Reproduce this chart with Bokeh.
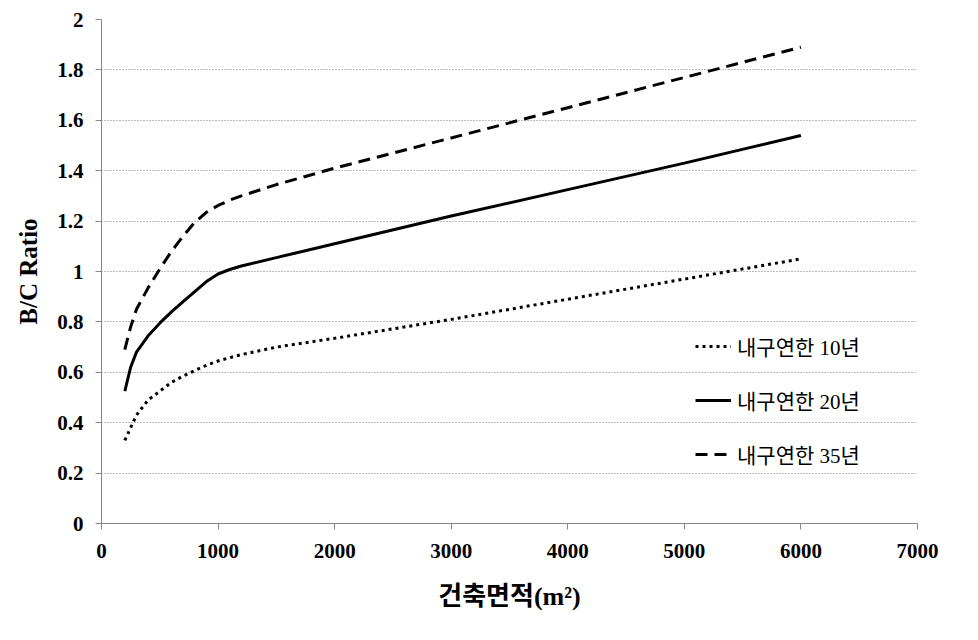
from bokeh.plotting import figure
from bokeh.models import Range1d, FixedTicker, Legend, LegendItem
from bokeh.embed import file_html
from bokeh.resources import INLINE

# ---- data ----
area = [200, 250, 300, 400, 500, 600, 700, 800, 900, 1000, 1100, 1200, 1500, 2000, 3000, 4000, 5000, 6000]
life10 = [0.33, 0.38, 0.43, 0.49, 0.525, 0.56, 0.585, 0.607, 0.628, 0.645, 0.658, 0.67, 0.70, 0.735, 0.81, 0.89, 0.97, 1.05]
life20 = [0.525, 0.62, 0.68, 0.745, 0.795, 0.84, 0.88, 0.92, 0.96, 0.99, 1.008, 1.022, 1.055, 1.11, 1.22, 1.325, 1.43, 1.54]
life35 = [0.69, 0.78, 0.85, 0.935, 1.01, 1.08, 1.14, 1.195, 1.235, 1.262, 1.283, 1.30, 1.345, 1.41, 1.53, 1.65, 1.77, 1.89]

series_names = ["내구연한 10년", "내구연한 20년", "내구연한 35년"]
x_ticks = [0, 1000, 2000, 3000, 4000, 5000, 6000, 7000]
y_ticks = [0, 0.2, 0.4, 0.6, 0.8, 1.0, 1.2, 1.4, 1.6, 1.8, 2.0]
y_tick_labels = ["0", "0.2", "0.4", "0.6", "0.8", "1", "1.2", "1.4", "1.6", "1.8", "2"]
x_title = "건축면적(m²)"
y_title = "B/C Ratio"

SERIF = "'Liberation Serif', 'Noto Sans CJK KR', serif"

p = figure(width=978, height=640, output_backend="svg", toolbar_location=None,
           x_range=Range1d(0, 7000), y_range=Range1d(0, 2),
           min_border_left=101, min_border_right=61, min_border_top=19, min_border_bottom=117)
p.outline_line_color = None
p.background_fill_color = "white"
p.border_fill_color = "white"

# axes
for ax in (p.xaxis[0], p.yaxis[0]):
    ax.axis_line_color = "#868686"
    ax.major_tick_line_color = "#868686"
    ax.major_tick_out = 6
    ax.major_tick_in = 0
    ax.minor_tick_line_color = None
    ax.major_label_text_font = SERIF
    ax.major_label_text_font_style = "bold"
    ax.major_label_text_font_size = "21px"
    ax.major_label_text_color = "black"
    ax.axis_label_text_font_style = "bold"
    ax.axis_label_text_color = "black"

p.xaxis.ticker = FixedTicker(ticks=x_ticks)
p.yaxis.ticker = FixedTicker(ticks=y_ticks)
p.yaxis.major_label_overrides = {t: l for t, l in zip(y_ticks, y_tick_labels)}
p.xaxis.major_label_overrides = {t: str(t) for t in x_ticks}
p.xaxis.major_label_standoff = 14
p.yaxis.major_label_standoff = 12

p.xaxis.axis_label = x_title
p.xaxis.axis_label_text_font = SERIF
p.xaxis.axis_label_text_font_size = "26px"
p.xaxis.axis_label_standoff = 21
p.yaxis.axis_label = y_title
p.yaxis.axis_label_text_font = SERIF
p.yaxis.axis_label_text_font_size = "25px"
p.yaxis.axis_label_standoff = 12

# grid
p.xgrid.grid_line_color = None
p.ygrid.grid_line_color = "#7a7a7a"
p.ygrid.grid_line_dash = "1 2"
p.ygrid.grid_line_width = 1

r10 = p.line(area, life10, line_color="black", line_width=3, line_dash="3 4")
r20 = p.line(area, life20, line_color="black", line_width=3)
r35 = p.line(area, life35, line_color="black", line_width=3, line_dash="12 7")

legend = Legend(items=[LegendItem(label=series_names[0], renderers=[r10]),
                       LegendItem(label=series_names[1], renderers=[r20]),
                       LegendItem(label=series_names[2], renderers=[r35])],
                location=(594, 54), padding=0, margin=0, spacing=24,
                glyph_width=36, glyph_height=20, label_height=20, label_standoff=6,
                border_line_color=None, background_fill_alpha=0,
                label_text_font=SERIF, label_text_font_size="21px", label_text_color="black")
p.add_layout(legend)

open("out.html", "w").write(file_html(p, INLINE))
